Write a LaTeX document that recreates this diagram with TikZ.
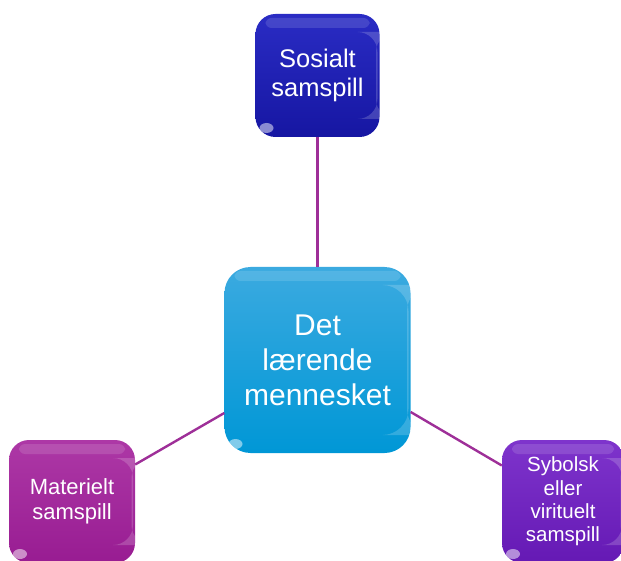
\documentclass[tikz,border=0pt]{standalone}
\usepackage{fontspec}
\setmainfont{Liberation Sans}
\definecolor{sosA}{HTML}{2A2CC4}
\definecolor{sosB}{HTML}{1616A2}
\definecolor{detA}{HTML}{3BAAE0}
\definecolor{detB}{HTML}{0097D6}
\definecolor{matA}{HTML}{AD38A6}
\definecolor{matB}{HTML}{981C92}
\definecolor{symA}{HTML}{7E34CC}
\definecolor{symB}{HTML}{6519B4}
\definecolor{linje}{HTML}{9E2F98}

\begin{document}
\begin{tikzpicture}[x=1pt,y=-1pt]
            \tikzstyle{boks} = [rectangle,inner sep=0pt,align=center,text=white,
                path picture={
                    \fill[white,opacity=.13,rounded corners=6pt]
                        ([xshift=10pt,yshift=-4pt]path picture bounding box.north west) rectangle
                        ([xshift=-10pt,yshift=-14pt]path picture bounding box.north east);
                    \fill[white,opacity=.18]
                        ([xshift=-3.5pt,yshift=-18pt]path picture bounding box.north east) rectangle
                        ([xshift=-2pt,yshift=18pt]path picture bounding box.south east);
                    \fill[white,opacity=.5]
                        ([xshift=11pt,yshift=9pt]path picture bounding box.south west) ellipse (7pt and 5pt);
                }];
            \tikzstyle{linjestil} = [draw=linje,line width=2.4pt];
            \useasboundingbox (0,0) rectangle (621,561);
            \clip (0,0) rectangle (621,561);
            \node[boks,top color=sosA,bottom color=sosB,rounded corners=20pt,
                minimum width=124pt,minimum height=123pt,
                font=\fontsize{25.5}{28.5}\selectfont] (sos) at (317.5,75.5) {Sosialt\\samspill};
            \node[boks,top color=detA,bottom color=detB,rounded corners=26pt,
                minimum width=186pt,minimum height=186pt,
                font=\fontsize{30}{35}\selectfont] (det) at (317.5,360) {Det\\lærende\\mennesket};
            \node[boks,top color=matA,bottom color=matB,rounded corners=20pt,
                minimum width=126pt,minimum height=123pt,
                font=\fontsize{22}{25}\selectfont] (mat) at (72,501.5) {Materielt\\samspill};
            \node[boks,top color=symA,bottom color=symB,rounded corners=20pt,
                minimum width=122pt,minimum height=123pt,
                font=\fontsize{20.5}{23.3}\selectfont] (sym) at (563,501.5) {Sybolsk\\eller\\virituelt\\samspill};
            \draw[style=linjestil] (sos.south) edge (det.north);
            \draw[style=linjestil] ([yshift=-53pt]det.west) edge ([yshift=37pt]mat.east);
            \draw[style=linjestil] ([yshift=-52pt]det.east) edge ([yshift=36pt]sym.west);
        \end{tikzpicture}
\end{document}
